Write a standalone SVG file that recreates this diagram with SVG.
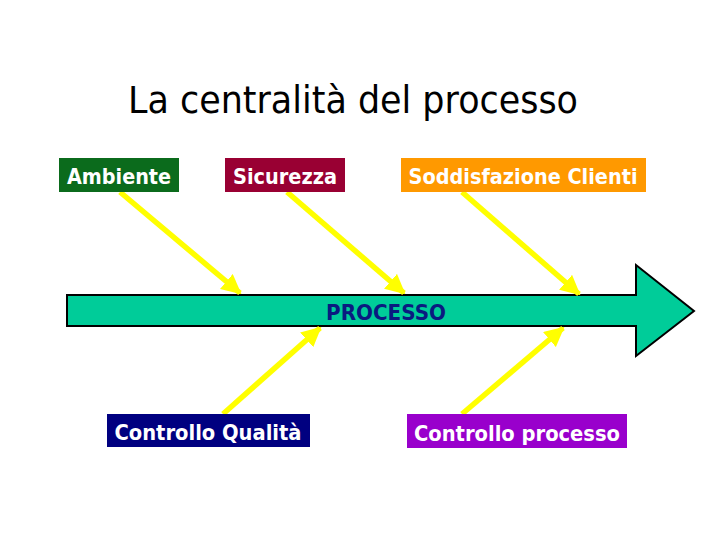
<svg xmlns="http://www.w3.org/2000/svg" width="720" height="540" viewBox="0 0 720 540">
<style>
.lbl{font-family:"DejaVu Sans Condensed","DejaVu Sans",Verdana,sans-serif;font-weight:bold;font-size:22px;fill:#ffffff;text-anchor:middle}
.conn{stroke:#ffff00;stroke-width:5.5;fill:none;marker-end:url(#ah)}
</style>
<defs>
<marker id="ah" viewBox="0 0 10 10" refX="9" refY="5" markerWidth="3.6" markerHeight="3.6" orient="auto" markerUnits="strokeWidth">
<path d="M0,0 L10,5 L0,10 z" fill="#ffff00"/>
</marker>
</defs>
<rect width="720" height="540" fill="#ffffff"/>
<text x="353" y="113" font-family="DejaVu Sans,Verdana,sans-serif" font-size="37" fill="#000000" text-anchor="middle" textLength="450" lengthAdjust="spacingAndGlyphs">La centralità del processo</text>
<g id="processo">
<polygon points="67,295 636,295 636,265 694,311 636,356 636,326 67,326" fill="#00cc99" stroke="#000000" stroke-width="2"/>
<text x="386" y="320" font-family="DejaVu Sans Condensed,DejaVu Sans,Verdana,sans-serif" font-weight="bold" font-size="22" fill="#0a1a80" text-anchor="middle" textLength="120" lengthAdjust="spacingAndGlyphs">PROCESSO</text>
</g>
<g id="connectors">
<line class="conn" x1="120" y1="192" x2="240" y2="293"/>
<line class="conn" x1="287" y1="192" x2="404" y2="293"/>
<line class="conn" x1="462" y1="192" x2="579" y2="294"/>
<line class="conn" x1="223" y1="414" x2="320" y2="328"/>
<line class="conn" x1="462" y1="414" x2="563" y2="328"/>
</g>
<g id="ambiente">
<rect x="59" y="158" width="120" height="34" fill="#0b6b1c"/>
<text class="lbl" x="119" y="184" textLength="104" lengthAdjust="spacingAndGlyphs">Ambiente</text>
</g>
<g id="sicurezza">
<rect x="225" y="158" width="120" height="34" fill="#990033"/>
<text class="lbl" x="285" y="184" textLength="104" lengthAdjust="spacingAndGlyphs">Sicurezza</text>
</g>
<g id="soddisfazione">
<rect x="401" y="158" width="245" height="34" fill="#ff9900"/>
<text class="lbl" x="523" y="184" textLength="229" lengthAdjust="spacingAndGlyphs">Soddisfazione Clienti</text>
</g>
<g id="qualita">
<rect x="107" y="414" width="203" height="33" fill="#000080"/>
<text class="lbl" x="208" y="440" textLength="187" lengthAdjust="spacingAndGlyphs">Controllo Qualità</text>
</g>
<g id="controllo">
<rect x="407" y="414" width="220" height="34" fill="#9900cc"/>
<text class="lbl" x="517" y="441" textLength="206" lengthAdjust="spacingAndGlyphs">Controllo processo</text>
</g>
</svg>
